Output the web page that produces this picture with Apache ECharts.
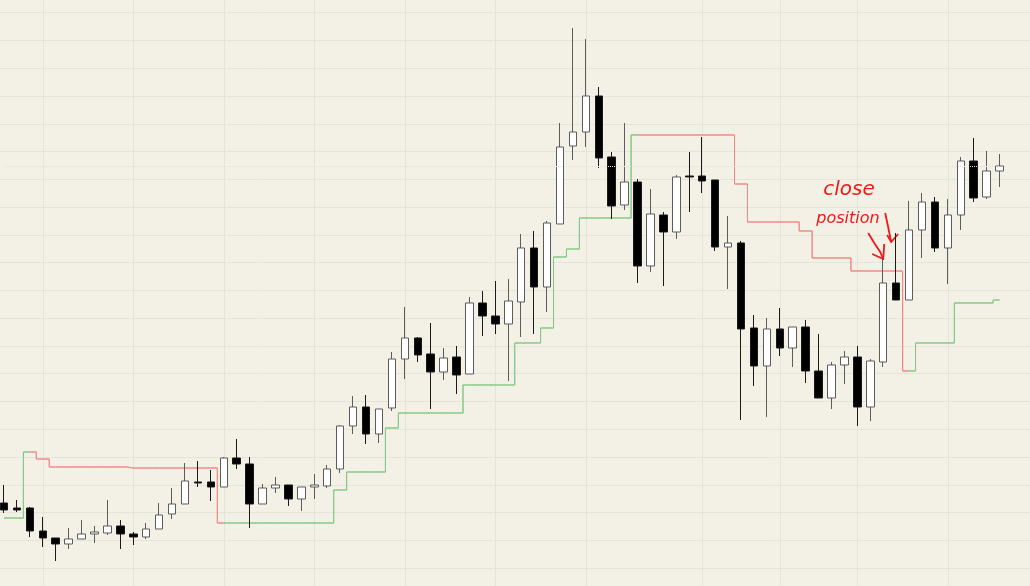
<!DOCTYPE html>
<html>
<head>
<meta charset="utf-8">
<script src="https://cdn.jsdelivr.net/npm/echarts@6/dist/echarts.min.js"></script>
<style>
  html, body { margin: 0; padding: 0; background: #f3f1e6; }
  #chart { width: 1030px; height: 586px; }
</style>
</head>
<body>
<div id="chart"></div>
<script>
// ---- data ----
const categories = Array.from({ length: 78 }, (_, i) => 'Bar ' + (i + 1));

const opens = [109.26,108.76,108.76,106.46,105.76,105.16,105.66,106.16,106.26,106.96,
106.16,105.86,106.66,108.16,109.16,111.36,111.36,110.86,113.76,113.16,
109.16,110.76,111.06,109.66,110.86,110.96,112.66,116.96,118.86,116.16,
118.76,123.66,125.76,124.16,122.36,123.86,122.16,129.26,127.96,127.16,
129.36,134.76,130.86,137.16,144.96,146.36,149.96,143.86,139.06,141.36,
132.96,138.06,136.36,141.96,141.96,141.56,134.86,135.26,126.76,122.96,
126.66,124.76,126.86,122.46,119.76,123.06,123.86,118.86,123.36,131.26,
129.56,136.56,139.36,134.76,138.06,143.46,139.86,142.46];

const closes = [108.56,108.56,106.46,105.76,105.16,105.66,106.16,106.36,106.96,106.16,
105.86,106.66,108.06,109.16,111.46,111.26,110.86,113.76,113.16,109.16,
110.76,111.06,109.66,110.86,111.06,112.66,116.96,118.86,116.16,118.66,
123.66,125.76,124.06,122.36,123.76,122.06,129.26,127.96,127.16,129.46,
134.76,130.86,137.26,144.86,146.36,149.96,143.76,138.96,141.36,132.96,
138.16,136.36,141.86,141.86,141.46,134.86,135.26,126.66,122.96,126.66,
124.76,126.86,122.46,119.76,123.06,123.86,118.86,123.46,131.26,129.56,
136.56,139.36,134.76,138.06,143.46,139.76,142.46,142.96];

const lows = [108.26,108.36,105.86,104.86,103.46,104.66,105.66,105.26,106.06,104.66,
105.06,105.66,106.66,107.66,109.16,110.86,109.46,110.86,112.66,106.76,
109.16,110.26,108.96,108.46,109.66,110.76,112.26,116.16,115.16,115.26,
118.46,121.66,123.36,118.66,121.56,120.16,122.16,125.96,126.16,121.46,
125.86,126.16,128.36,137.16,143.56,144.86,142.76,137.66,138.56,131.26,
132.36,130.96,135.66,138.36,140.26,134.46,130.66,117.56,120.96,117.86,
123.96,122.86,121.26,119.76,118.66,121.16,116.96,117.46,122.86,129.56,
129.56,133.76,134.36,131.16,136.56,139.36,139.66,140.86];

const highs = [111.06,109.56,108.86,107.86,105.76,106.76,107.56,106.96,109.56,107.56,
106.36,107.26,109.26,110.76,113.26,113.46,112.56,113.86,115.66,113.86,
111.16,111.86,111.06,110.86,112.16,113.06,117.06,119.96,120.06,118.66,
124.36,128.86,125.86,127.26,124.76,124.96,129.86,130.46,131.46,131.66,
136.16,136.46,137.46,147.26,156.76,155.66,150.86,144.36,147.26,141.66,
140.66,138.36,142.06,144.36,145.86,141.56,137.96,135.46,128.06,127.76,
128.76,126.86,127.56,126.16,123.36,124.46,124.96,123.66,133.76,136.26,
139.46,140.26,139.86,139.66,143.86,145.76,144.46,144.16];

// trailing stop level per bar
const stopLevels = [107.76,107.76,114.36,113.66,112.86,112.86,112.86,112.86,112.86,112.86,
112.76,112.76,112.76,112.76,112.76,112.76,112.76,107.26,107.26,107.26,
107.26,107.26,107.26,107.26,107.26,107.26,110.56,112.36,112.36,112.36,
116.76,118.26,118.26,118.26,118.26,118.26,121.06,121.06,121.06,121.06,
125.26,125.26,126.76,133.86,134.66,137.76,137.76,137.76,137.76,146.06,
146.06,146.06,146.06,146.06,146.06,146.06,146.06,141.16,137.36,137.36,
137.36,137.36,136.46,133.76,133.76,133.76,132.46,132.46,132.46,132.46,
122.46,125.26,125.26,125.26,129.26,129.26,129.26,129.56];

// stop side segments: [first bar, last bar, side]
const stopSegments = [[0, 1, 'long'], [2, 16, 'short'], [17, 48, 'long'], [49, 69, 'short'], [70, 77, 'long']];

// bars where a vertical period divider is drawn
const periodDividers = [3, 10, 17, 24, 31, 38, 45, 54, 60, 66, 73];

// annotation
const noteLines = ['close', 'position'];

// ---- chart ----
const GREEN = '#86c886';
const RED = '#f08a86';
const INK = '#f01818';
const GRIDC = '#e5e4d8';
const Y_MIN = 102.749, Y_MAX = 158.289, Y_STEP = 2.777;

const candleData = opens.map((o, i) => [o, closes[i], lows[i], highs[i]]);
const pieces = stopSegments.map(([a, b, side]) => ({
  gte: a - 0.4, lt: b + 0.6, color: side === 'long' ? GREEN : RED
}));

const hiddenAxis = { axisLine: { show: false }, axisTick: { show: false }, axisLabel: { show: false } };

const chart = echarts.init(document.getElementById('chart'), null, { renderer: 'canvas' });

const option = {
  animation: false,
  backgroundColor: '#f3f1e6',
  grid: [
    { left: 4, right: 30.4, top: 12.7, bottom: 17.9, containLabel: false },   // price plot
    { left: 0, right: 0, top: 12.7, bottom: 17.9, containLabel: false },      // full-width price grid lines
    { left: 4, right: 30.4, top: 0, bottom: 0, containLabel: false }          // full-height period dividers
  ],
  xAxis: [
    Object.assign({ type: 'category', gridIndex: 0, data: categories, boundaryGap: false,
      splitLine: { show: false } }, hiddenAxis),
    { type: 'value', gridIndex: 1, min: 0, max: 1, show: false, splitLine: { show: false } },
    Object.assign({ type: 'category', gridIndex: 2, data: categories, boundaryGap: false,
      splitLine: { show: true, interval: (index) => periodDividers.includes(index),
        lineStyle: { color: GRIDC, width: 1 } } }, hiddenAxis)
  ],
  yAxis: [
    Object.assign({ type: 'value', gridIndex: 0, min: Y_MIN, max: Y_MAX, interval: Y_STEP,
      splitLine: { show: false } }, hiddenAxis),
    Object.assign({ type: 'value', gridIndex: 1, min: Y_MIN, max: Y_MAX, interval: Y_STEP,
      splitLine: { show: true, lineStyle: { color: GRIDC, width: 1 } } }, hiddenAxis),
    Object.assign({ type: 'value', gridIndex: 2, min: 0, max: 1,
      splitLine: { show: false } }, hiddenAxis)
  ],
  visualMap: {
    show: false,
    type: 'piecewise',
    dimension: 0,
    seriesIndex: 1,
    pieces: pieces,
    outOfRange: { color: GREEN }
  },
  series: [
    {
      type: 'candlestick',
      xAxisIndex: 0, yAxisIndex: 0,
      data: candleData,
      barWidth: 8,
      clip: false,
      itemStyle: {
        color: '#ffffff',
        color0: '#000000',
        borderColor: '#5c5c5c',
        borderColor0: '#1a1a1a',
        borderWidth: 1
      },
      markLine: {
        silent: true,
        symbol: 'none',
        label: { show: false },
        lineStyle: { color: '#e2e0d4', type: 'dotted', width: 1 },
        data: [{ yAxis: closes[closes.length - 1] }]
      },
      z: 3
    },
    {
      type: 'line',
      xAxisIndex: 0, yAxisIndex: 0,
      data: stopLevels,
      step: 'middle',
      symbol: 'none',
      lineStyle: { width: 1 },
      z: 2
    }
  ]
};
chart.setOption(option);

// handwritten-style annotation anchored to the bars it points at
const tip1 = chart.convertToPixel({ gridIndex: 0 }, [68, highs[68]]);
const tip2 = chart.convertToPixel({ gridIndex: 0 }, [69, highs[69]]);
const ax = tip1[0], ay = tip1[1];
const bx = tip2[0] - 5, by = tip2[1] + 9;

chart.setOption({
  graphic: [
    { type: 'text', left: ax - 60, top: ay - 78,
      style: { text: noteLines[0], fill: INK, font: 'italic 20px "DejaVu Sans"' } },
    { type: 'text', left: ax - 67, top: ay - 47,
      style: { text: noteLines[1], fill: INK, font: 'italic 16px "DejaVu Sans"' } },
    { type: 'polyline', shape: { points: [[ax - 15, ay - 25], [ax - 9, ay - 15], [ax - 3, ay - 6], [ax, ay + 1]] },
      style: { stroke: INK, lineWidth: 1.8, fill: null } },
    { type: 'polyline', shape: { points: [[ax - 11, ay - 4], [ax, ay + 1], [ax + 1, ay - 14]] },
      style: { stroke: INK, lineWidth: 1.8, fill: null } },
    { type: 'polyline', shape: { points: [[bx - 6, by - 29], [bx - 3, by - 15], [bx, by]] },
      style: { stroke: INK, lineWidth: 1.8, fill: null } },
    { type: 'polyline', shape: { points: [[bx - 4, by - 7], [bx, by], [bx + 7, by - 8]] },
      style: { stroke: INK, lineWidth: 1.8, fill: null } }
  ]
});
</script>
</body>
</html>
